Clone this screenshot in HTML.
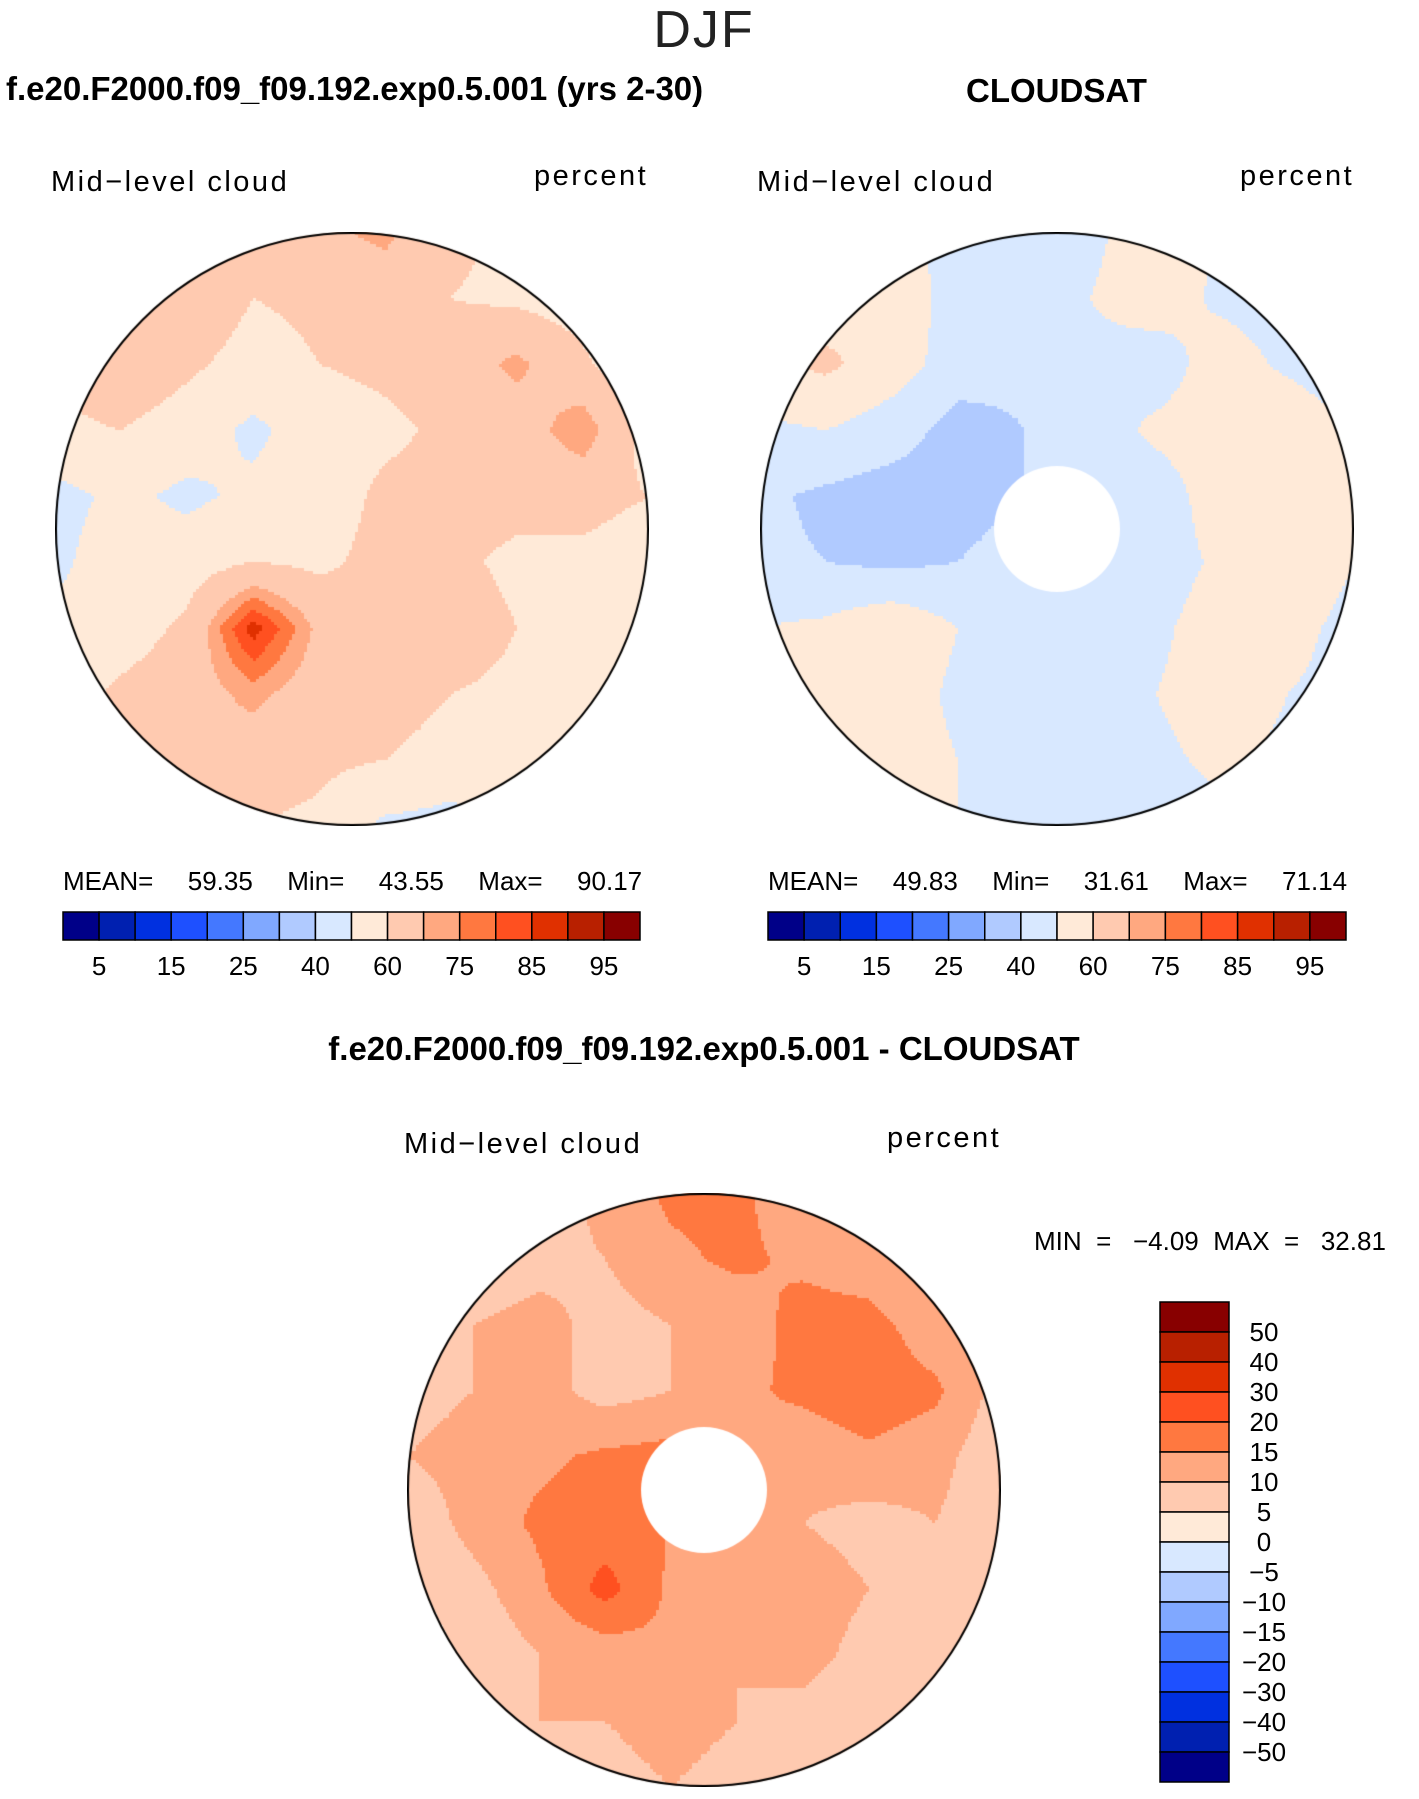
<!DOCTYPE html>
<html><head><meta charset="utf-8">
<style>
body{margin:0;background:#fff;}
#root{position:relative;width:1419px;height:1799px;overflow:hidden;font-family:"Liberation Sans",sans-serif;color:#000;}
.t{position:absolute;white-space:nowrap;}
canvas{position:absolute;}
</style></head>
<body>
<div id="root">
<div class="t" style="left:0;width:1408px;text-align:center;top:0px;font-size:52px;font-weight:100;color:#222;letter-spacing:2px;">DJF</div>
<div class="t" style="left:6px;top:70px;font-size:33px;font-weight:bold;">f.e20.F2000.f09_f09.192.exp0.5.001 (yrs 2-30)</div>
<div class="t" style="left:966px;top:72px;font-size:33px;font-weight:bold;">CLOUDSAT</div>
<div class="t" style="left:51px;top:166px;font-size:29px;letter-spacing:2.5px;">Mid−level cloud</div>
<div class="t" style="left:534px;top:160px;font-size:29px;letter-spacing:2.5px;">percent</div>
<div class="t" style="left:757px;top:166px;font-size:29px;letter-spacing:2.5px;">Mid−level cloud</div>
<div class="t" style="left:1240px;top:160px;font-size:29px;letter-spacing:2.5px;">percent</div>
<div class="t" style="left:63px;top:866px;font-size:26px;word-spacing:10px;">MEAN=&nbsp;&nbsp;59.35&nbsp;&nbsp;Min=&nbsp;&nbsp;43.55&nbsp;&nbsp;Max=&nbsp;&nbsp;90.17</div>
<div class="t" style="left:768px;top:866px;font-size:26px;word-spacing:10px;">MEAN=&nbsp;&nbsp;49.83&nbsp;&nbsp;Min=&nbsp;&nbsp;31.61&nbsp;&nbsp;Max=&nbsp;&nbsp;71.14</div>
<div class="t" style="left:0;width:1408px;text-align:center;top:1030px;font-size:33px;font-weight:bold;">f.e20.F2000.f09_f09.192.exp0.5.001 - CLOUDSAT</div>
<div class="t" style="left:404px;top:1128px;font-size:29px;letter-spacing:2.5px;">Mid−level cloud</div>
<div class="t" style="left:887px;top:1122px;font-size:29px;letter-spacing:2.5px;">percent</div>
<div class="t" style="left:1034px;top:1226px;font-size:26px;">MIN &nbsp;= &nbsp;&nbsp;−4.09 &nbsp;MAX &nbsp;= &nbsp;&nbsp;32.81</div>
<canvas id="c1" width="594" height="594" style="left:55px;top:232px"></canvas>
<canvas id="c2" width="594" height="594" style="left:760px;top:232px"></canvas>
<canvas id="c3" width="594" height="594" style="left:407px;top:1193px"></canvas>
<svg id="ov" width="1419" height="1799" style="position:absolute;left:0;top:0"></svg>
</div>
<script>
const absColors=["#000088","#0020b0","#0030e0","#1e50ff","#4478ff","#80a8ff","#b0caff","#d8e8ff","#ffead8","#ffcab0","#ffa880","#ff7840","#ff5020","#e03000","#b82000","#880000"];
const absLevels=[5,10,15,20,25,30,40,50,60,70,75,80,85,90,95];
const absTickLabels=["5","15","25","40","60","75","85","95"];
const diffLevels=[-50,-40,-30,-20,-15,-10,-5,0,5,10,15,20,30,40,50];
const diffTickLabels=["50","40","30","20","15","10","5","0","−5","−10","−15","−20","−30","−40","−50"];
const modelGrid=[
[55,55,58,62,68,72,62,58,55,48],
[55,62,68,60,62,65,60,58,55,47],
[60,68,62,56,60,62,65,72,62,50],
[58,60,55,48,55,58,62,65,75,55],
[47,52,48,52,55,62,63,63,63,60],
[48,55,55,60,58,63,62,58,58,55],
[52,55,62,88,68,62,65,60,55,50],
[55,62,66,72,65,66,60,58,55,48],
[55,62,70,65,62,60,55,55,50,48],
[55,58,62,60,58,48,47,52,50,50]];
const obsGrid=[
[55,55,50,48,45,48,55,50,42,40],
[52,55,58,45,45,50,55,48,45,38],
[58,62,55,45,42,48,45,55,48,42],
[48,50,45,36,40,45,52,55,58,50],
[42,38,35,35,40,42,45,55,58,55],
[42,40,38,40,45,45,45,52,55,50],
[50,52,58,50,45,45,48,55,52,48],
[52,55,55,48,45,45,50,55,50,48],
[52,55,55,50,45,46,48,52,48,45],
[50,52,55,50,45,48,45,48,45,45]];
const diffGrid=[
[2,4,6,12,16,16,12,10,6,4],
[4,6,8,10,14,16,14,12,8,4],
[6,10,12,8,10,12,17,17,12,6],
[8,10,12,8,10,14,16,18,16,8],
[10,12,14,16,17,14,12,14,12,6],
[6,12,16,17,15,12,10,8,10,6],
[4,8,14,22,14,12,13,10,8,4],
[2,6,10,12,14,10,12,8,6,3],
[-1,6,10,10,12,10,8,6,4,2],
[1,4,8,8,10,8,6,4,2,1]];
function colorFor(v,levels){let i=0;while(i<levels.length&&v>=levels[i])i++;return absColors[i];}
function sample(g,u,v){const n=g.length-1;const x=Math.min(Math.max(u*n,0),n),y=Math.min(Math.max(v*n,0),n);
const i=Math.min(Math.floor(y),n-1),j=Math.min(Math.floor(x),n-1),fy=y-i,fx=x-j;
return g[i][j]*(1-fx)*(1-fy)+g[i][j+1]*fx*(1-fy)+g[i+1][j]*(1-fx)*fy+g[i+1][j+1]*fx*fy;}
function drawMap(id,grid,levels,hole){const c=document.getElementById(id),ctx=c.getContext('2d');const S=594,r=297,st=3;
ctx.save();ctx.beginPath();ctx.arc(r,r,r,0,Math.PI*2);ctx.clip();
for(let y=0;y<S;y+=st)for(let x=0;x<S;x+=st){ctx.fillStyle=colorFor(sample(grid,(x+1.5)/S,(y+1.5)/S),levels);ctx.fillRect(x,y,st,st);}
if(hole){ctx.fillStyle="#fff";ctx.beginPath();ctx.arc(r,r,63,0,Math.PI*2);ctx.fill();}
ctx.restore();ctx.strokeStyle="#000";ctx.lineWidth=2;ctx.beginPath();ctx.arc(r,r,r-1,0,Math.PI*2);ctx.stroke();}
drawMap('c1',modelGrid,absLevels,false);
drawMap('c2',obsGrid,absLevels,true);
drawMap('c3',diffGrid,diffLevels,true);
const ov=document.getElementById('ov');const NS="http://www.w3.org/2000/svg";
function hbar(x0,x1,y0,y1,prefix){const w=(x1-x0)/absColors.length;
absColors.forEach((col,i)=>{const r=document.createElementNS(NS,'rect');
r.setAttribute('x',x0+i*w);r.setAttribute('y',y0);r.setAttribute('width',w);r.setAttribute('height',y1-y0);r.setAttribute('fill',col);r.setAttribute('stroke','#000');r.setAttribute('stroke-width','1.5');


ov.appendChild(r);});
absTickLabels.forEach((lab,k)=>{const t=document.createElementNS(NS,'text');
t.setAttribute('x',x0+(2*k+1)*w);t.setAttribute('y',y1+35);t.setAttribute('text-anchor','middle');t.setAttribute('font-size','26');t.setAttribute('font-family','Liberation Sans, sans-serif');t.textContent=lab;


ov.appendChild(t);});}
hbar(63,640,912,940,'model');
hbar(768,1346,912,940,'obs');
(function(){const x0=1160,x1=1229,y0=1302,h=30;const rev=absColors.slice().reverse();
rev.forEach((col,i)=>{const r=document.createElementNS(NS,'rect');
r.setAttribute('x',x0);r.setAttribute('y',y0+i*h);r.setAttribute('width',x1-x0);r.setAttribute('height',h);r.setAttribute('fill',col);r.setAttribute('stroke','#000');r.setAttribute('stroke-width','1.5');


ov.appendChild(r);});
diffTickLabels.forEach((lab,k)=>{const t=document.createElementNS(NS,'text');
t.setAttribute('x',1264);t.setAttribute('y',y0+(k+1)*h+9);t.setAttribute('text-anchor','middle');t.setAttribute('font-size','26');t.setAttribute('font-family','Liberation Sans, sans-serif');t.textContent=lab;


ov.appendChild(t);});})();
</script>
</body></html>
